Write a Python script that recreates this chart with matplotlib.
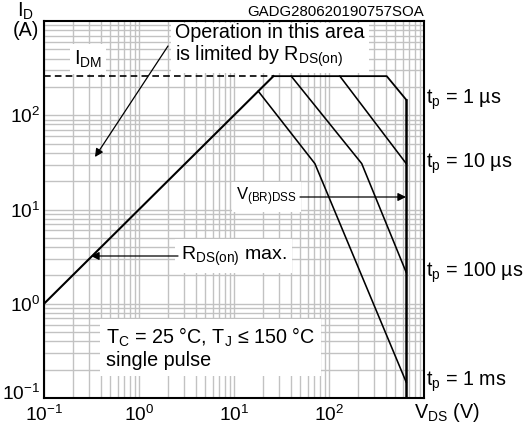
import matplotlib
matplotlib.use("Agg")
import matplotlib.pyplot as plt
import matplotlib.transforms as mtrans
import numpy as np

plt.rcParams['font.family'] = ['Liberation Sans', 'DejaVu Sans']
plt.rcParams['mathtext.fontset'] = 'custom'
plt.rcParams['mathtext.rm'] = 'Liberation Sans'
plt.rcParams['mathtext.it'] = 'Liberation Sans:italic'
plt.rcParams['mathtext.bf'] = 'Liberation Sans:bold'

# ---- data ----
rds_v = [0.1, 26]          # R_DS(on) limit line
rds_i = [1.0, 260]
idm = 260                   # I_DM level
v_br = 650                  # V(BR)DSS
v_br_top = 146

tp_labels = ['1 µs', '10 µs', '100 µs', '1 ms']
tp1_v = [26, 405, 650]
tp1_i = [260, 260, 146]
tp10_v = [130, 650]
tp10_i = [260, 30.7]
tp100_v = [40, 221, 650]
tp100_i = [260, 30.7, 2.15]
tp1ms_v = [18, 71, 650]
tp1ms_i = [180, 30.7, 0.147]

x_ticks = [0.1, 1, 10, 100]
y_ticks = [0.1, 1, 10, 100]

W, H = 525, 428
fig = plt.figure(figsize=(W / 100, H / 100), dpi=100)
L, R, B, T = 44, 424, 398, 21
ax = fig.add_axes([L / W, 1 - B / H, (R - L) / W, (B - T) / H])
ax.set_xscale('log')
ax.set_yscale('log')
ax.set_xlim(0.1, 1000)
ax.set_ylim(0.1, 1000)

ticklabs = [r'$\mathregular{10^{-1}}$', r'$\mathregular{10^{0}}$',
            r'$\mathregular{10^{1}}$', r'$\mathregular{10^{2}}$']
ax.set_xticks(x_ticks)
ax.set_xticklabels(ticklabs)
ax.set_yticks(y_ticks)
ax.set_yticklabels(ticklabs)
ax.xaxis.set_minor_locator(matplotlib.ticker.LogLocator(base=10, subs=np.arange(2, 10), numticks=20))
ax.yaxis.set_minor_locator(matplotlib.ticker.LogLocator(base=10, subs=np.arange(2, 10), numticks=20))
ax.xaxis.set_minor_formatter(matplotlib.ticker.NullFormatter())
ax.yaxis.set_minor_formatter(matplotlib.ticker.NullFormatter())
ax.tick_params(which='both', length=0, labelsize=13.8)
ax.tick_params(axis='x', pad=5)
ax.tick_params(axis='y', pad=3)
ax.grid(True, which='both', color='#c2c2c2', lw=1.0, zorder=0)
ax.set_axisbelow(True)
for s in ax.spines.values():
    s.set_linewidth(1.5)
    s.set_color('black')
    s.set_zorder(10)

# lift the lowest y tick label a little, as in the reference
lift = mtrans.ScaledTranslation(0, 6 / 100, fig.dpi_scale_trans)
lbl0 = ax.get_yticklabels()[0]
lbl0.set_transform(lbl0.get_transform() + lift)

# ---- curves ----
lc = 'black'
ax.plot(rds_v, rds_i, color=lc, lw=1.5, zorder=5)
ax.plot([rds_v[0], rds_v[1]], [idm, idm], color=lc, lw=1.2, ls=(0, (4, 2.5)), zorder=5)
ax.plot(tp1_v, tp1_i, color=lc, lw=1.3, zorder=5)
ax.plot(tp10_v, tp10_i, color=lc, lw=1.15, zorder=5)
ax.plot(tp100_v, tp100_i, color=lc, lw=1.15, zorder=5)
ax.plot(tp1ms_v, tp1ms_i, color=lc, lw=1.15, zorder=5)
ax.plot([v_br, v_br], [0.1, v_br_top], color=lc, lw=1.8, zorder=5)

fs = 14.2

# ---- right-side t_p labels ----
ends = [tp1_i[-1], tp10_i[-1], tp100_i[-1], tp1ms_i[-1]]
for lab, iv in zip(tp_labels, ends):
    ax.text(1.006, iv, r't$_\mathregular{p}$ = ' + lab, transform=ax.get_yaxis_transform(),
            ha='left', va='center', fontsize=fs, clip_on=False)


def px(x, y):
    """pixel position in figure -> data coords"""
    lv = -1 + (x - L) / ((R - L) / 4)
    li = 3 - (y - T) / ((B - T) / 4)
    return 10 ** lv, 10 ** li

arrow = dict(arrowstyle='-|>', color='black', lw=0.9, mutation_scale=12,
             shrinkA=0, shrinkB=0)

# I_DM
ax.text(*px(74, 59), r'I$_\mathregular{DM}$', fontsize=fs, ha='left', va='center',
        bbox=dict(facecolor='white', edgecolor='none', pad=3), zorder=6)

# Operation box
ax.text(*px(175, 46), 'Operation in this area\nis limited by R$_\\mathregular{DS(on)}$',
        fontsize=fs, ha='left', va='center', linespacing=1.08,
        bbox=dict(facecolor='white', edgecolor='none', pad=3), zorder=6)
ax.annotate('', xy=px(95, 157), xytext=px(168, 46), arrowprops=arrow, zorder=7)

# V(BR)DSS
ax.text(*px(297, 197), r'V$_\mathregular{(BR)DSS}$', fontsize=12, ha='right', va='center',
        bbox=dict(facecolor='white', edgecolor='none', pad=3), zorder=6)
ax.annotate('', xy=px(406, 197), xytext=px(300, 197), arrowprops=arrow, zorder=7)

# R_DS(on) max
ax.text(*px(181, 256), r'R$_\mathregular{DS(on)}$ max.', fontsize=14, ha='left', va='center',
        bbox=dict(facecolor='white', edgecolor='none', pad=4), zorder=6)
ax.annotate('', xy=px(91, 256), xytext=px(178, 256), arrowprops=arrow, zorder=7)

# conditions box
ax.text(*px(106, 348), 'T$_\\mathregular{C}$ = 25 °C, T$_\\mathregular{J}$ ≤ 150 °C\nsingle pulse',
        fontsize=fs, ha='left', va='center', linespacing=1.12,
        bbox=dict(facecolor='white', edgecolor='none', pad=4), zorder=6)

# axis labels
fig.text(25 / W, 1 - 11 / H, r'I$_\mathregular{D}$', fontsize=fs, ha='center', va='center')
fig.text(26 / W, 1 - 31 / H, '(A)', fontsize=fs, ha='center', va='center')
fig.text(R / W, 1 - 12 / H, 'GADG280620190757SOA', fontsize=10.8, ha='right', va='center')
fig.text(414 / W, 1 - 412 / H, r'V$_\mathregular{DS}$ (V)', fontsize=fs, ha='left', va='center')

fig.savefig('out.png', dpi=100)
